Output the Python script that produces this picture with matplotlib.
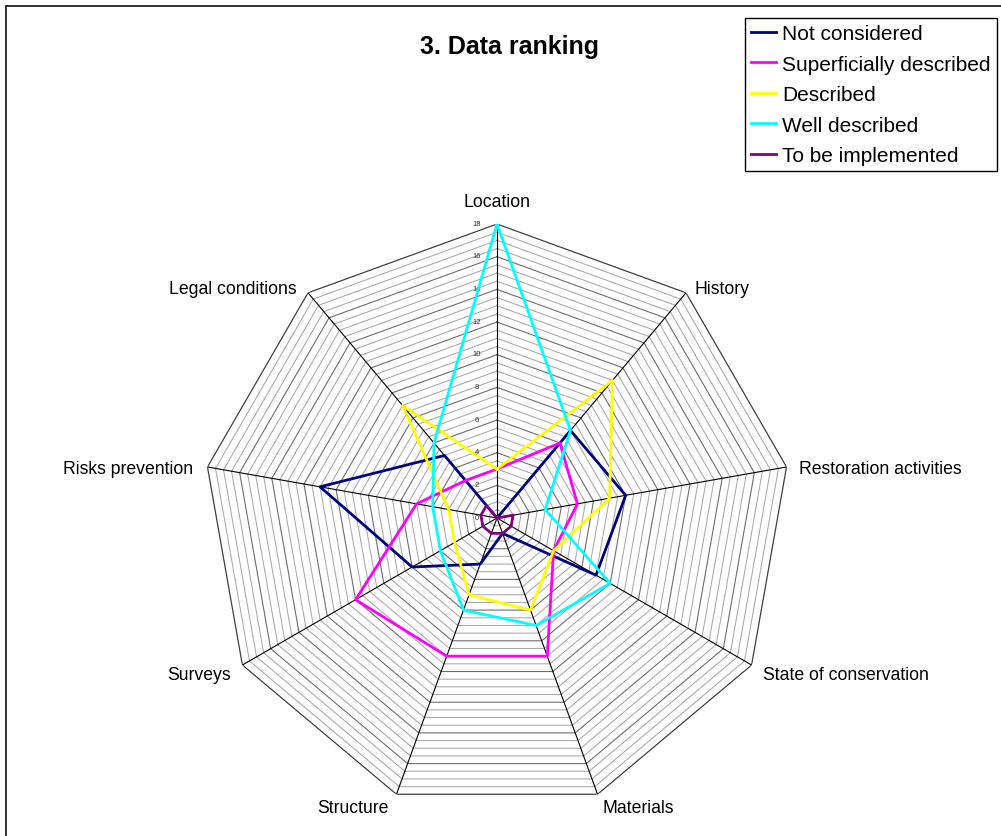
import numpy as np
import matplotlib
matplotlib.use("Agg")
import matplotlib.pyplot as plt
from matplotlib.patches import Rectangle

plt.rcParams['font.family'] = ['Liberation Sans', 'DejaVu Sans']

categorias = ["Location", "History", "Restoration activities", "State of conservation",
              "Materials", "Structure", "Surveys", "Risks prevention", "Legal conditions"]

no_considerado = [0, 7, 8, 7, 1, 3, 6, 11, 5]
superficial = [3, 6, 5, 4, 9, 9, 10, 5, 3]
descrito = [3, 11, 7, 4, 6, 5, 3, 3, 9]
bien_descrito = [18, 7, 3, 8, 7, 6, 4, 4, 6]
por_implementar = [0, 0, 1, 1, 1, 1, 1, 1, 1]

series = ["Not considered", "Superficially described", "Described",
          "Well described", "To be implemented"]
colores = ["#000080", "#FF00FF", "#FFFF00", "#00FFFF", "#800080"]
ticks = list(range(0, 19, 2))
rmax = 18

n = len(categorias)
angulos = np.linspace(0, 2 * np.pi, n, endpoint=False)
ang_cerrado = np.append(angulos, angulos[0])

fig = plt.figure(figsize=(10.01, 8.37), dpi=100)
ax = fig.add_axes([0.2028, 0.0286, 0.5874, 0.7026], projection="polar")
ax.set_theta_zero_location("N")
ax.set_theta_direction(-1)
ax.set_ylim(0, rmax)
ax.grid(False)
ax.spines["polar"].set_visible(False)
ax.set_xticks([])
ax.set_yticks([])
ax.patch.set_alpha(0)

# rejilla poligonal
for r in np.arange(0.5, rmax + 0.01, 0.5):
    if r == rmax:
        c, lw = "#404040", 0.9
    elif r % 2 == 0:
        c, lw = "#6e6e6e", 0.8
    else:
        c, lw = "#a8a8a8", 0.75
    ax.plot(ang_cerrado, [r] * (n + 1), color=c, lw=lw, zorder=1)

for a in angulos:
    ax.plot([a, a], [0, rmax], color="black", lw=0.8, zorder=2)

# etiquetas del eje radial
for t in ticks:
    ax.annotate(str(t), xy=(0, t), xytext=(-20, 1), textcoords="offset pixels",
                ha="center", va="center", fontsize=5.5, color="#333333")

# etiquetas de categorias
offsets = [(0, 23, "center"), (9, 4, "left"), (12, -2, "left"), (11, -9, "left"),
           (5, -13, "left"), (-8, -13, "right"), (-12, -9, "right"),
           (-14, -2, "right"), (-11, 4, "right")]
for a, nombre, (dx, dy, ha) in zip(angulos, categorias, offsets):
    ax.annotate(nombre, xy=(a, rmax), xytext=(dx, dy), textcoords="offset pixels",
                ha=ha, va="center", fontsize=12.7, annotation_clip=False)

datos = [no_considerado, superficial, descrito, bien_descrito, por_implementar]
lineas = []
for valores, color, nombre in zip(datos, colores, series):
    v = valores + valores[:1]
    l, = ax.plot(ang_cerrado, v, color=color, lw=2, label=nombre, zorder=3)
    lineas.append(l)

fig.text(0.509, 0.944, "3. Data ranking", ha="center", va="center",
         fontsize=18, fontweight="bold")

leg = fig.legend(handles=lineas, loc="upper right",
                 bbox_to_anchor=(997 / 1001, 1 - 19 / 837), fontsize=15,
                 fancybox=False, edgecolor="black", framealpha=1,
                 handlelength=1.2, handletextpad=0.3, labelspacing=0.55,
                 borderpad=0.3, borderaxespad=0)
leg.get_frame().set_linewidth(1.0)

fig.patches.append(Rectangle((6 / 1001, -0.05), 1.1, 1 - 7 / 837 + 0.05,
                             transform=fig.transFigure, fill=False,
                             edgecolor="#222222", lw=1.3))

fig.savefig("out.png", dpi=100)
